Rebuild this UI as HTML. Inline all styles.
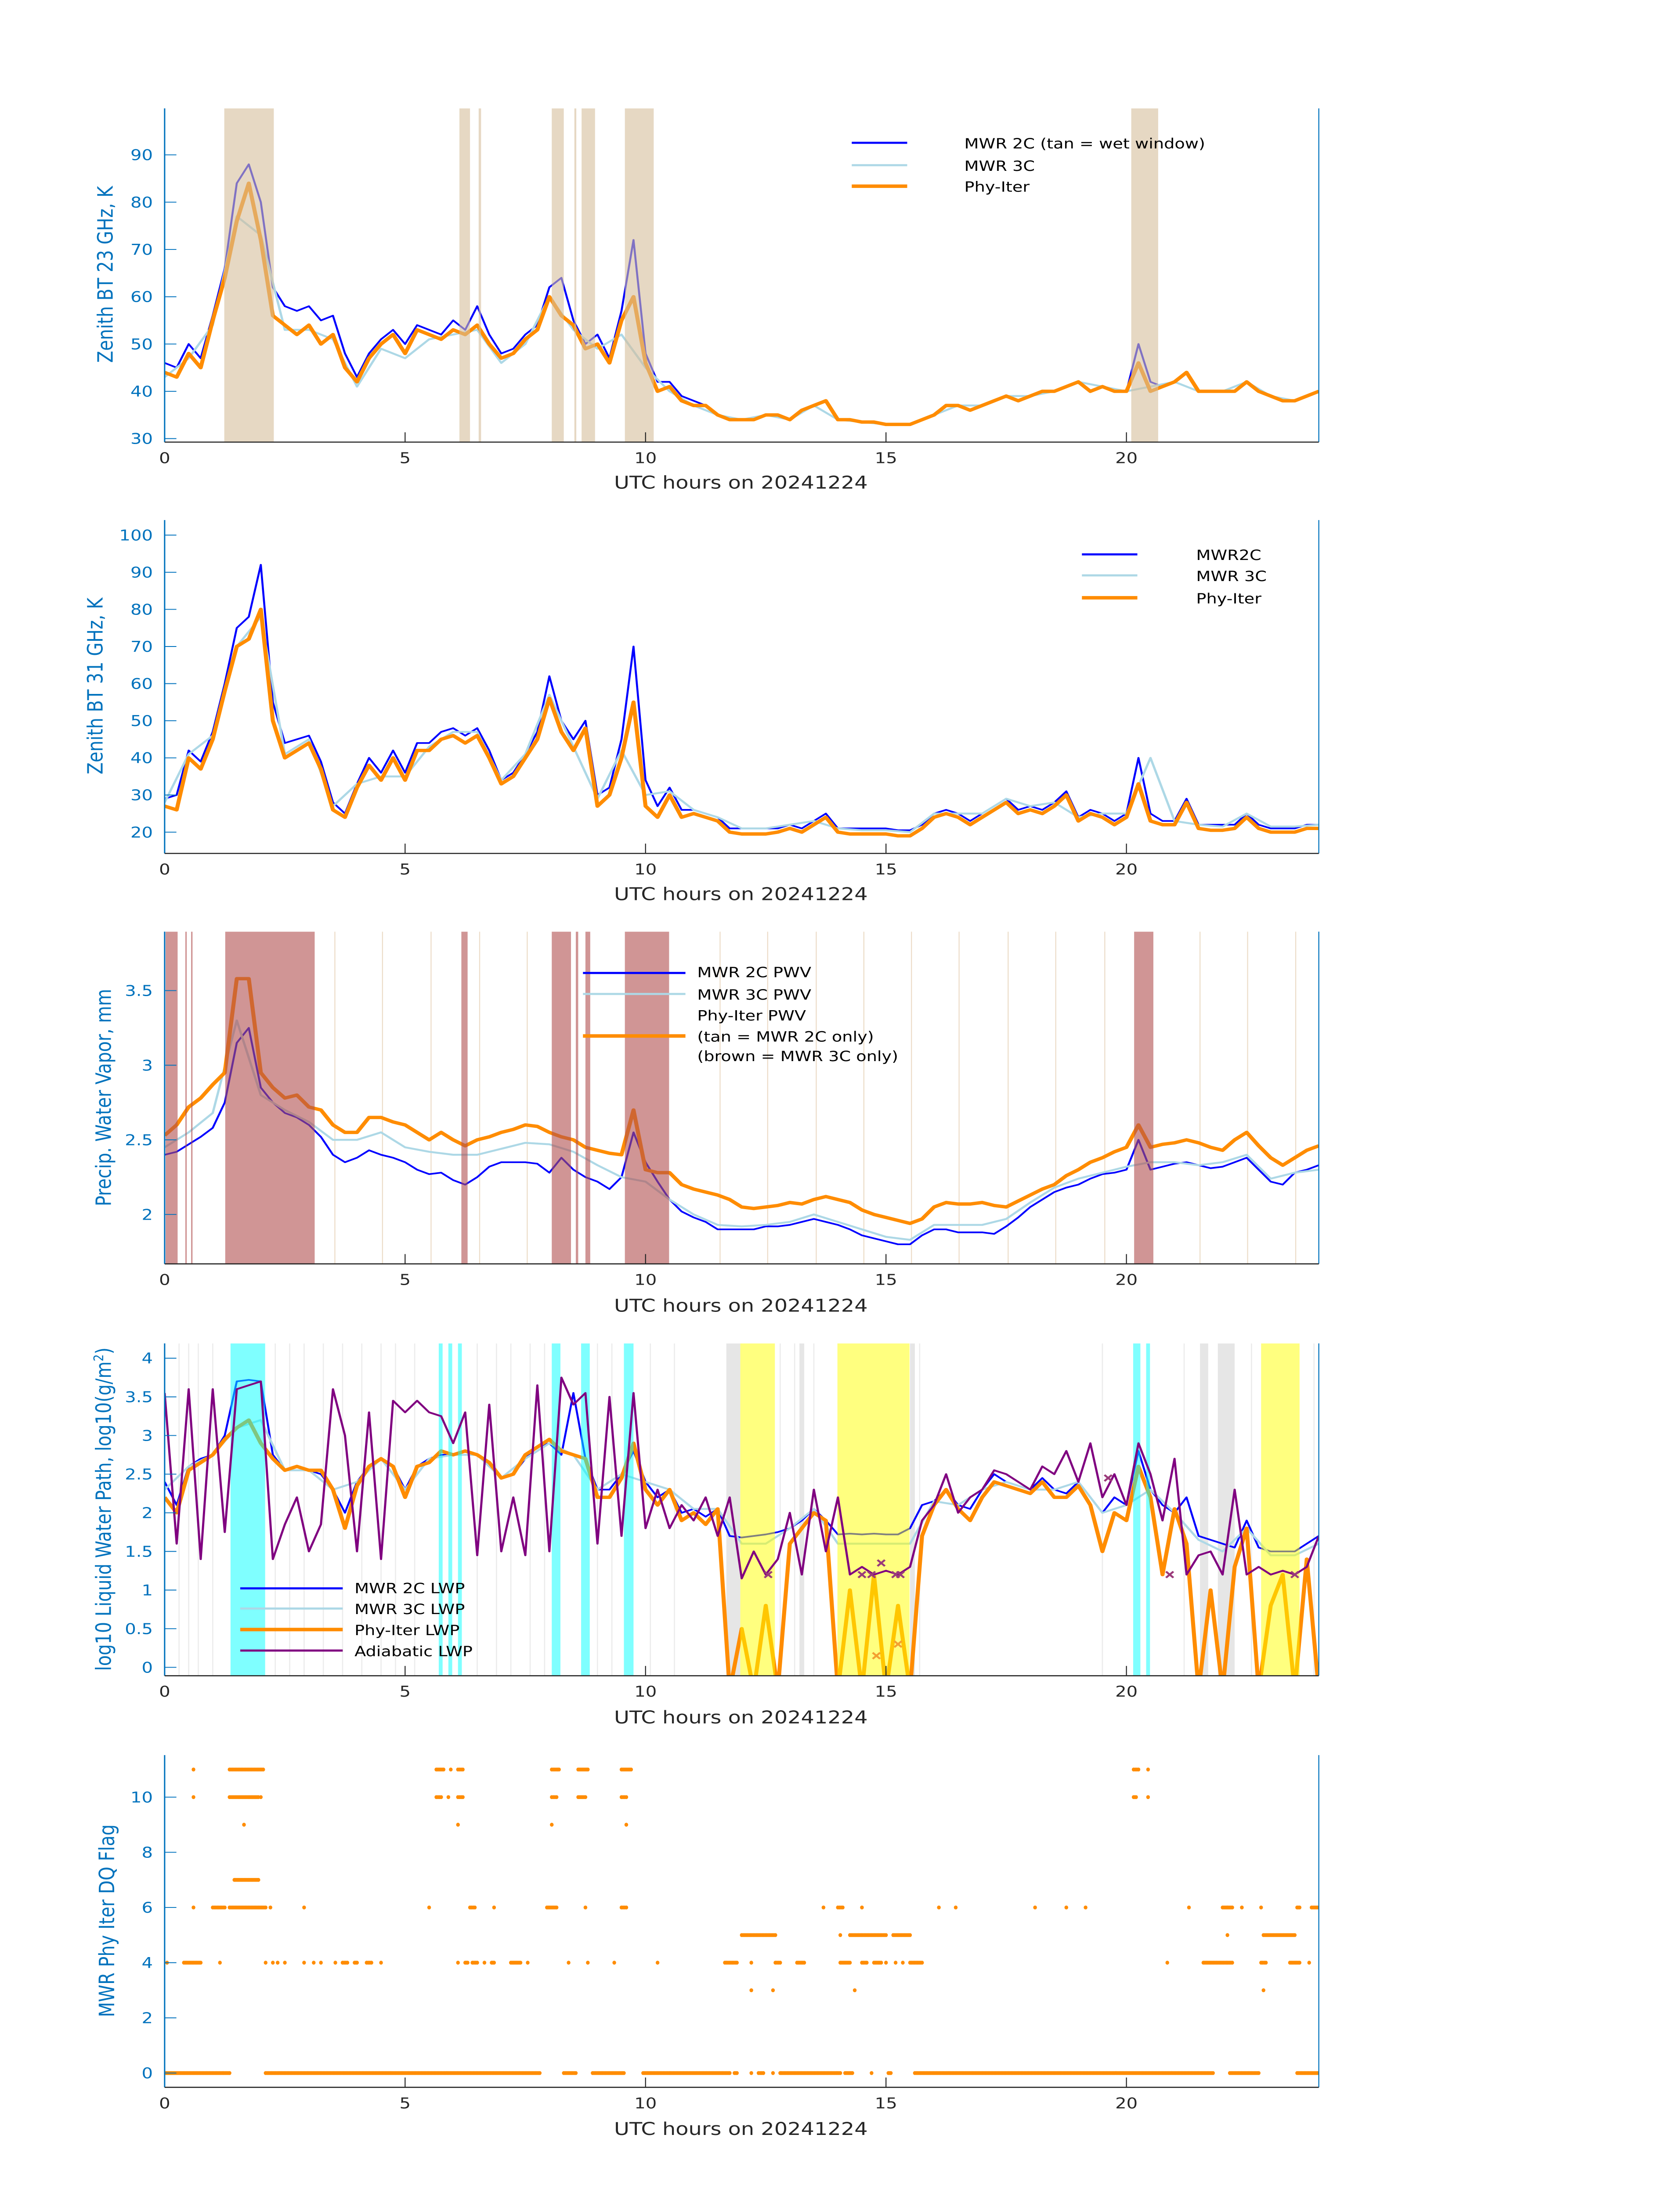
<!DOCTYPE html>
<html><head><meta charset="utf-8"><title>MWR 20241224</title>
<style>
html,body{margin:0;padding:0;background:#fff;width:100vw;height:100vh;overflow:hidden;}
svg{display:block;position:absolute;left:0;top:0;width:100vw;height:100vh;font-family:"DejaVu Sans","Liberation Sans",sans-serif;}
.yt{fill:#0072bd;font-size:10.5px;text-anchor:end;}
.xt{fill:#262626;font-size:10.5px;text-anchor:middle;}
.xl{fill:#262626;font-size:12.5px;text-anchor:middle;}
.yl{fill:#0072bd;font-size:12.5px;text-anchor:middle;}
.lg{fill:#000;font-size:10px;}
</style></head>
<body>
<svg id="fig" xmlns="http://www.w3.org/2000/svg" viewBox="0 0 1000 1568.63" preserveAspectRatio="none">
<rect x="0" y="0" width="1000" height="1568.63" fill="#fff"/>
<g id="layer"></g>
<text class="xl" x="441" y="349">UTC hours on 20241224</text>
<text class="xl" x="441" y="643">UTC hours on 20241224</text>
<text class="xl" x="441" y="937">UTC hours on 20241224</text>
<text class="xl" x="441" y="1231">UTC hours on 20241224</text>
<text class="xl" x="441" y="1525">UTC hours on 20241224</text>
<text class="yl" transform="translate(67,196) rotate(-90)">Zenith BT 23 GHz, K</text>
<text class="yl" transform="translate(61,490) rotate(-90)">Zenith BT 31 GHz, K</text>
<text class="yl" transform="translate(66,784) rotate(-90)">Precip. Water Vapor, mm</text>
<text class="yl" transform="translate(66,1078) rotate(-90)">log10 Liquid Water Path, log10(g/m<tspan baseline-shift="super" font-size="8">2</tspan>)</text>
<text class="yl" transform="translate(68,1372) rotate(-90)">MWR Phy Iter DQ Flag</text>
<g>
<line x1="507" y1="102" x2="540" y2="102" stroke="#0000ff" stroke-width="1.5"/>
<text class="lg" x="574" y="106">MWR 2C (tan = wet window)</text>
<line x1="507" y1="118" x2="540" y2="118" stroke="#add8e6" stroke-width="1.5"/>
<text class="lg" x="574" y="122">MWR 3C</text>
<line x1="507" y1="133" x2="540" y2="133" stroke="#ff8c00" stroke-width="2.5"/>
<text class="lg" x="574" y="137">Phy-Iter</text>
</g>
<g>
<line x1="644" y1="396" x2="677" y2="396" stroke="#0000ff" stroke-width="1.5"/>
<text class="lg" x="712" y="400">MWR2C</text>
<line x1="644" y1="411" x2="677" y2="411" stroke="#add8e6" stroke-width="1.5"/>
<text class="lg" x="712" y="415">MWR 3C</text>
<line x1="644" y1="427" x2="677" y2="427" stroke="#ff8c00" stroke-width="2.5"/>
<text class="lg" x="712" y="431">Phy-Iter</text>
</g>
<g>
<line x1="347" y1="695" x2="408" y2="695" stroke="#0000ff" stroke-width="1.5"/>
<text class="lg" x="415" y="698">MWR 2C PWV</text>
<line x1="347" y1="710" x2="408" y2="710" stroke="#add8e6" stroke-width="1.5"/>
<text class="lg" x="415" y="714">MWR 3C PWV</text>
<text class="lg" x="415" y="729">Phy-Iter PWV</text>
<line x1="347" y1="740" x2="408" y2="740" stroke="#ff8c00" stroke-width="2.5"/>
<text class="lg" x="415" y="744">(tan = MWR 2C only)</text>
<text class="lg" x="415" y="758">(brown = MWR 3C only)</text>
</g>
<g>
<line x1="143" y1="1134.6" x2="204" y2="1134.6" stroke="#0000ff" stroke-width="1.5"/>
<text class="lg" x="211" y="1138">MWR 2C LWP</text>
<line x1="143" y1="1149" x2="204" y2="1149" stroke="#add8e6" stroke-width="1.5"/>
<text class="lg" x="211" y="1153">MWR 3C LWP</text>
<line x1="143" y1="1164" x2="204" y2="1164" stroke="#ff8c00" stroke-width="2.5"/>
<text class="lg" x="211" y="1168">Phy-Iter LWP</text>
<line x1="143" y1="1179" x2="204" y2="1179" stroke="#800080" stroke-width="1.5"/>
<text class="lg" x="211" y="1183">Adiabatic LWP</text>
</g>
</svg>
<script>
const xTicks = [0,5,10,15,20];
const ticks1 = [30,40,50,60,70,80,90];
const ticks2 = [20,30,40,50,60,70,80,90,100];
const ticks3 = [2,2.5,3,3.5];
const ticks4 = [0,0.5,1,1.5,2,2.5,3,3.5,4];
const ticks5 = [0,2,4,6,8,10];

const bt23_2c = [46,45,50,47,56,66,84,88,80,62,58,57,58,55,56,48,43,48,51,53,50,54,53,52,55,53,58,52,48,49,52,54,62,64,55,50,52,47,57,72,48,42,42,39,38,37,35,34,34,34,35,35,34,36,37,38,34,34,33.5,33.5,33,33,33,34,35,37,37,36,37,38,39,38,39,40,40,41,42,40,41,40,40,50,42,41,42,44,40,40,40,40,42,40,39,38,38,39,40];
const bt23_3c = [43,47,54,77,73,53,53,51,41,49,47,51,52,53,46,50,60,53,49,52,45,40,37,35,34,35,34,37,34,33.5,33,33,35,37,37,39,39,40,42,41,40,41,42,40,40,42,39,38,40];
const bt23_phy = [44,43,48,45,55,64,76,84,72,56,54,52,54,50,52,45,42,47,50,52,48,53,52,51,53,52,54,50,47,48,51,53,60,56,54,49,50,46,55,60,46,40,41,38,37,37,35,34,34,34,35,35,34,36,37,38,34,34,33.5,33.5,33,33,33,34,35,37,37,36,37,38,39,38,39,40,40,41,42,40,41,40,40,46,40,41,42,44,40,40,40,40,42,40,39,38,38,39,40];
const wetWindow = [[1.24,2.27],[6.13,6.35],[6.53,6.58],[8.05,8.3],[8.52,8.56],[8.67,8.95],[9.57,10.17],[20.1,20.66]];

const bt31_2c = [29,30,42,39,47,60,75,78,92,55,44,45,46,39,28,25,33,40,36,42,36,44,44,47,48,46,48,42,34,36,41,47,62,50,45,50,30,32,45,70,34,27,32,26,26,25,24,21,21,21,21,21,22,21,23,25,21,21,21,21,21,20.5,20.5,22,25,26,25,23,25,27,29,26,27,26,28,31,24,26,25,23,25,40,25,23,23,29,22,22,22,22,25,22,21,21,21,22,22];
const bt31_3c = [28,41,46,70,78,41,45,27,33,35,35,43,47,47,34,41,57,43,29,42,30,31,26,24,21,21,22,23,21,20.5,20.5,20,25,25,25,29,27,28,24,25,25,40,23,22,21.5,25,21.5,21.5,22];
const bt31_phy = [27,26,40,37,45,58,70,72,80,50,40,42,44,37,26,24,32,38,34,40,34,42,42,45,46,44,46,40,33,35,40,45,56,47,42,48,27,30,40,55,27,24,30,24,25,24,23,20,19.5,19.5,19.5,20,21,20,22,24,20,19.5,19.5,19.5,19.5,19,19,21,24,25,24,22,24,26,28,25,26,25,27,30,23,25,24,22,24,33,23,22,22,28,21,20.5,20.5,21,24,21,20,20,20,21,21];

const pwv_2c = [2.4,2.42,2.47,2.52,2.58,2.75,3.15,3.25,2.85,2.75,2.68,2.65,2.6,2.52,2.4,2.35,2.38,2.43,2.4,2.38,2.35,2.3,2.27,2.28,2.23,2.2,2.25,2.32,2.35,2.35,2.35,2.34,2.28,2.38,2.3,2.25,2.22,2.17,2.25,2.55,2.35,2.22,2.1,2.02,1.98,1.95,1.9,1.9,1.9,1.9,1.92,1.92,1.93,1.95,1.97,1.95,1.93,1.9,1.86,1.84,1.82,1.8,1.8,1.86,1.9,1.9,1.88,1.88,1.88,1.87,1.92,1.98,2.05,2.1,2.15,2.18,2.2,2.24,2.27,2.28,2.3,2.5,2.3,2.32,2.34,2.35,2.33,2.31,2.32,2.35,2.38,2.3,2.22,2.2,2.28,2.3,2.33];
const pwv_3c = [2.45,2.55,2.68,3.3,2.8,2.7,2.62,2.5,2.5,2.55,2.45,2.42,2.4,2.4,2.44,2.48,2.47,2.42,2.33,2.25,2.22,2.1,2.0,1.93,1.92,1.93,1.95,2.0,1.95,1.9,1.85,1.83,1.93,1.93,1.93,1.97,2.08,2.18,2.24,2.28,2.32,2.35,2.35,2.33,2.35,2.4,2.24,2.28,2.3];
const pwv_phy = [2.53,2.6,2.72,2.78,2.87,2.95,3.58,3.58,2.95,2.85,2.78,2.8,2.72,2.7,2.6,2.55,2.55,2.65,2.65,2.62,2.6,2.55,2.5,2.55,2.5,2.46,2.5,2.52,2.55,2.57,2.6,2.59,2.55,2.52,2.5,2.45,2.43,2.41,2.4,2.7,2.3,2.28,2.28,2.2,2.17,2.15,2.13,2.1,2.05,2.04,2.05,2.06,2.08,2.07,2.1,2.12,2.1,2.08,2.03,2.0,1.98,1.96,1.94,1.97,2.05,2.08,2.07,2.07,2.08,2.06,2.05,2.09,2.13,2.17,2.2,2.26,2.3,2.35,2.38,2.42,2.45,2.6,2.45,2.47,2.48,2.5,2.48,2.45,2.43,2.5,2.55,2.46,2.38,2.33,2.38,2.43,2.46];
const brownBands = [[0.02,0.27],[0.43,0.46],[0.55,0.58],[1.26,3.12],[6.17,6.3],[8.05,8.45],[8.55,8.6],[8.75,8.85],[9.57,10.49],[20.16,20.56]];
const tanLines = [3.54,4.53,5.54,6.55,7.54,11.55,12.54,13.55,14.54,15.53,16.52,17.54,18.53,19.55,21.53,22.52,23.52];

const lwp_2c = [2.4,2.1,2.6,2.7,2.75,3.0,3.7,3.72,3.7,2.75,2.55,2.6,2.55,2.5,2.3,2.0,2.4,2.6,2.7,2.6,2.3,2.6,2.7,2.75,2.75,2.8,2.75,2.65,2.45,2.5,2.7,2.85,2.9,2.75,3.55,2.7,2.3,2.3,2.5,2.8,2.4,2.2,2.3,2.0,2.05,1.95,2.05,1.7,1.68,1.7,1.72,1.75,1.8,1.9,2.05,1.9,1.72,1.73,1.72,1.73,1.72,1.72,1.8,2.1,2.15,2.3,2.1,2.05,2.3,2.5,2.4,2.35,2.3,2.45,2.3,2.25,2.4,2.2,2.0,2.2,2.1,2.8,2.3,2.1,2.0,2.2,1.7,1.65,1.6,1.55,1.9,1.55,1.5,1.5,1.5,1.6,1.7];
const lwp_3c = [2.3,2.6,2.75,3.1,3.2,2.55,2.55,2.3,2.4,2.7,2.3,2.7,2.75,2.75,2.45,2.7,2.9,2.75,2.3,2.5,2.4,2.3,2.05,2.05,1.6,1.6,1.8,2.05,1.6,1.6,1.6,1.6,2.15,2.1,2.3,2.4,2.3,2.3,2.4,2.0,2.1,2.3,2.0,1.65,1.5,1.8,1.45,1.45,1.6];
const lwp_phy = [2.2,2.0,2.55,2.65,2.75,2.95,3.1,3.2,2.9,2.7,2.55,2.6,2.55,2.55,2.3,1.8,2.35,2.6,2.7,2.6,2.2,2.6,2.65,2.8,2.75,2.8,2.75,2.65,2.45,2.5,2.75,2.85,2.95,2.8,2.75,2.7,2.2,2.2,2.45,2.9,2.3,2.1,2.3,1.9,2.0,1.85,2.05,-0.3,0.5,-0.3,0.8,-0.3,1.6,1.8,2.0,1.9,-0.3,1.0,-0.3,1.2,-0.3,0.8,-0.3,1.7,2.1,2.3,2.05,1.9,2.2,2.4,2.35,2.3,2.25,2.4,2.2,2.2,2.35,2.1,1.5,2.0,1.9,2.6,2.2,1.2,2.05,1.6,-0.3,1.0,-0.3,1.3,1.8,-0.3,0.8,1.2,-0.3,1.4,-0.3];
const lwp_adiab = [3.55,1.6,3.6,1.4,3.6,1.75,3.6,3.65,3.7,1.4,1.85,2.2,1.5,1.85,3.6,3.0,1.5,3.3,1.4,3.45,3.3,3.45,3.3,3.25,2.9,3.3,1.45,3.4,1.5,2.2,1.45,3.65,1.5,3.75,3.4,3.55,1.6,3.5,1.7,3.55,1.8,2.3,1.8,2.1,1.9,2.2,1.7,2.2,1.15,1.5,1.2,1.4,2.0,1.2,2.3,1.5,2.2,1.2,1.3,1.2,1.25,1.2,1.3,1.9,2.1,2.5,2.0,2.2,2.3,2.55,2.5,2.4,2.3,2.6,2.5,2.8,2.4,2.9,2.2,2.5,2.1,2.9,2.5,1.9,2.7,1.2,1.45,1.5,1.2,2.3,1.2,1.3,1.2,1.25,1.2,1.3,1.7];
const adiabX_h = [12.55,14.5,14.7,14.9,15.2,15.3,19.62,20.9,23.5];
const adiabX_v = [1.2,1.2,1.2,1.35,1.2,1.2,2.45,1.2,1.2];
const phyX_h = [14.8,15.25];
const phyX_v = [0.15,0.3];
const cyanBands = [[1.37,2.09],[5.7,5.78],[5.9,5.98],[6.1,6.18],[8.05,8.23],[8.66,8.84],[9.55,9.75],[20.14,20.29],[20.41,20.49]];
const yellowBands = [[11.97,12.69],[13.99,15.49],[22.8,23.6]];
const greyBands = [[11.68,11.97],[21.53,21.7],[21.9,22.25],[13.2,13.3],[15.5,15.6]];
const greyLines = [0.3,0.5,0.7,1.0,2.3,2.6,2.9,3.3,3.7,4.1,4.5,4.8,5.2,6.5,6.9,7.2,7.6,7.9,9.0,9.3,10.1,10.6,12.8,13.1,13.5,15.7,19.5,21.2,22.6,23.9];

const flagLevels = [0,3,4,5,6,7,9,10,11];
const flagSpans = [
 [[0,1.35],[2.1,7.8],[8.3,8.55],[8.9,9.55],[9.95,11.75],[11.85,11.9],[12.2,12.2],[12.35,12.45],[12.65,12.65],[12.8,14.05],[14.15,14.3],[14.7,14.7],[15.05,15.1],[15.6,21.8],[22.15,22.75],[23.55,24]],
 [[12.2,12.2],[12.65,12.65],[14.35,14.35],[22.85,22.85]],
 [[0.05,0.05],[0.4,0.75],[1.15,1.15],[2.1,2.1],[2.25,2.25],[2.35,2.35],[2.5,2.5],[2.9,2.9],[3.1,3.1],[3.25,3.25],[3.55,3.55],[3.7,3.8],[3.95,4.0],[4.2,4.3],[4.5,4.5],[6.1,6.1],[6.25,6.3],[6.4,6.5],[6.65,6.65],[6.8,6.85],[7.2,7.4],[7.55,7.55],[8.4,8.4],[8.8,8.8],[9.35,9.35],[10.25,10.25],[11.65,11.9],[12.2,12.2],[12.7,12.8],[13.15,13.3],[14.05,14.25],[14.5,14.6],[14.75,14.9],[15.0,15.0],[15.2,15.2],[15.35,15.35],[15.5,15.75],[20.85,20.85],[21.6,22.2],[22.8,22.9],[23.4,23.6],[23.8,23.8]],
 [[12.0,12.7],[14.05,14.05],[14.25,15.0],[15.15,15.5],[22.1,22.1],[22.85,23.5]],
 [[0.6,0.6],[1.0,1.25],[1.35,2.1],[2.2,2.2],[2.9,2.9],[5.5,5.5],[6.35,6.45],[6.85,6.85],[7.95,8.15],[8.75,8.75],[9.5,9.6],[13.7,13.7],[14.0,14.1],[14.5,14.5],[16.1,16.1],[16.45,16.45],[18.1,18.1],[18.75,18.75],[19.15,19.15],[21.3,21.3],[22.0,22.2],[22.4,22.4],[22.8,22.8],[23.55,23.6],[23.85,24]],
 [[1.45,1.95]],
 [[1.65,1.65],[6.1,6.1],[8.05,8.05],[9.6,9.6]],
 [[0.6,0.6],[1.35,1.95],[2.0,2.0],[5.65,5.75],[5.9,5.9],[6.1,6.2],[8.05,8.15],[8.6,8.75],[9.5,9.6],[20.15,20.2],[20.45,20.45]],
 [[0.6,0.6],[1.35,2.05],[5.65,5.8],[5.95,5.95],[6.1,6.2],[8.05,8.2],[8.6,8.8],[9.5,9.7],[20.15,20.25],[20.45,20.45]]
];

const NS = 'http://www.w3.org/2000/svg';
const layer = document.getElementById('layer');
function mk(tag, attrs, name, parent){
  const el = document.createElementNS(NS, tag);
  for (const k in attrs) el.setAttribute(k, attrs[k]);
  
  
  (parent || layer).appendChild(el);
  return el;
}
const X0 = 98, XW = 687;
const xS = h => X0 + h * XW / 24;
const panels = [
  {id:1, top:77.4, bottom:315.8, v0:30, y0:313.3, k:-3.378, ticks:ticks1},
  {id:2, top:371.5, bottom:609.6, v0:20, y0:594.4, k:-2.652, ticks:ticks2},
  {id:3, top:665.5, bottom:902.8, v0:2, y0:867.5, k:-106.6, ticks:ticks3},
  {id:4, top:959.6, bottom:1197, v0:0, y0:1191, k:-55.2, ticks:ticks4},
  {id:5, top:1253.7, bottom:1491, v0:0, y0:1480.8, k:-19.71, ticks:ticks5}
];
panels.forEach(p => { p.y = v => p.y0 + (v - p.v0) * p.k; });
const defs = mk('defs', {}, 'clip-defs');
panels.forEach(p => {
  const cp = mk('clipPath', {id:'clip'+p.id}, 'clip-panel-'+p.id, defs);
  mk('rect', {x:X0, y:p.top, width:XW, height:p.bottom-p.top}, 'clip-rect', cp);
  p.g = mk('g', {'clip-path':'url(#clip'+p.id+')'}, 'plot-area-'+p.id);
});

function bands(p, list, fill, name){
  list.forEach(b => {
    const w = Math.max(xS(b[1]) - xS(b[0]), 0.8);
    mk('rect', {x:xS(b[0]), y:p.top, width:w, height:p.bottom-p.top, fill:fill}, name, p.g);
  });
}
function vlines(p, list, color, width, name){
  list.forEach(h => {
    mk('line', {x1:xS(h), x2:xS(h), y1:p.top, y2:p.bottom, stroke:color, 'stroke-width':width}, name, p.g);
  });
}
function series(p, vals, color, width, name){
  const step = 24 / (vals.length - 1);
  const d = vals.map((v,i) => (i ? 'L' : 'M') + xS(i*step).toFixed(2) + ',' + p.y(v).toFixed(2)).join('');
  mk('path', {d:d, fill:'none', stroke:color, 'stroke-width':width, 'stroke-linejoin':'round'}, name, p.g);
}
function xmarks(p, hs, vs, color, name){
  hs.forEach((h,i) => {
    const cx = xS(h), cy = p.y(vs[i]), s = 2.2;
    mk('path', {d:`M${cx-s},${cy-s}L${cx+s},${cy+s}M${cx-s},${cy+s}L${cx+s},${cy-s}`, stroke:color, 'stroke-width':1.3, fill:'none'}, name, p.g);
  });
}

const P1 = panels[0];
series(P1, bt23_2c, '#0000ff', 1.2, 'line-mwr2c-23ghz');
series(P1, bt23_3c, '#add8e6', 1.4, 'line-mwr3c-23ghz');
series(P1, bt23_phy, '#ff8c00', 2.4, 'line-phyiter-23ghz');
bands(P1, wetWindow, 'rgba(213,190,155,0.6)', 'wet-window-band');
const P2 = panels[1];
series(P2, bt31_2c, '#0000ff', 1.2, 'line-mwr2c-31ghz');
series(P2, bt31_3c, '#add8e6', 1.4, 'line-mwr3c-31ghz');
series(P2, bt31_phy, '#ff8c00', 2.4, 'line-phyiter-31ghz');
const P3 = panels[2];
vlines(P3, tanLines, '#ecdcc8', 0.6, 'tan-flag-line');
series(P3, pwv_2c, '#0000ff', 1.2, 'line-mwr2c-pwv');
series(P3, pwv_3c, '#add8e6', 1.4, 'line-mwr3c-pwv');
series(P3, pwv_phy, '#ff8c00', 2.4, 'line-phyiter-pwv');
bands(P3, brownBands, 'rgba(177,78,78,0.6)', 'brown-band');
const P4 = panels[3];
vlines(P4, greyLines, '#ececec', 0.7, 'grey-flag-line');
bands(P4, greyBands, '#e6e6e6', 'grey-band');
series(P4, lwp_2c, '#0000ff', 1.2, 'line-mwr2c-lwp');
series(P4, lwp_3c, '#add8e6', 1.4, 'line-mwr3c-lwp');
series(P4, lwp_phy, '#ff8c00', 2.4, 'line-phyiter-lwp');
bands(P4, yellowBands, 'rgba(255,255,0,0.5)', 'yellow-band');
bands(P4, cyanBands, 'rgba(0,255,255,0.5)', 'cyan-band');
series(P4, lwp_adiab, '#800080', 1.3, 'line-adiabatic-lwp');
xmarks(P4, adiabX_h, adiabX_v, '#9a3a7a', 'adiabatic-marker');
xmarks(P4, phyX_h, phyX_v, '#f4a030', 'phyiter-marker');
const P5 = panels[4];
flagLevels.forEach((lev, li) => {
  flagSpans[li].forEach(s => {
    const n = Math.max(1, Math.round((s[1]-s[0]) / 0.03) + 1);
    for (let j = 0; j < n; j++) {
      const h = n === 1 ? s[0] : s[0] + (s[1]-s[0]) * j / (n-1);
      mk('ellipse', {cx:xS(h).toFixed(2), cy:P5.y(lev).toFixed(2), rx:1.1, ry:1.4, fill:'#ff8c00'}, 'flag-point', P5.g);
    }
  });
});

panels.forEach(p => {
  mk('line', {x1:X0, x2:X0, y1:p.top, y2:p.bottom, stroke:'#0072bd', 'stroke-width':0.8}, 'y-axis-line-'+p.id);
  mk('line', {x1:X0+XW, x2:X0+XW, y1:p.top, y2:p.bottom, stroke:'#0072bd', 'stroke-width':0.6}, 'right-axis-line-'+p.id);
  mk('line', {x1:X0, x2:X0+XW, y1:p.bottom, y2:p.bottom, stroke:'#262626', 'stroke-width':0.8}, 'x-axis-line-'+p.id);
  p.ticks.forEach(t => {
    const y = p.y(t);
    mk('line', {x1:X0, x2:X0+7, y1:y, y2:y, stroke:'#0072bd', 'stroke-width':0.6}, 'y-tick', null);
    const tx = mk('text', {x:91, y:(y+3.8).toFixed(2), class:'yt'}, 'y-tick-label');
    tx.textContent = String(t);
  });
  xTicks.forEach(t => {
    const x = xS(t);
    if (t > 0) mk('line', {x1:x, x2:x, y1:p.bottom, y2:p.bottom-7, stroke:'#262626', 'stroke-width':0.6}, 'x-tick');
    const tx = mk('text', {x:x, y:p.bottom+15, class:'xt'}, 'x-tick-label');
    tx.textContent = String(t);
  });
});
</script>
</body></html>
